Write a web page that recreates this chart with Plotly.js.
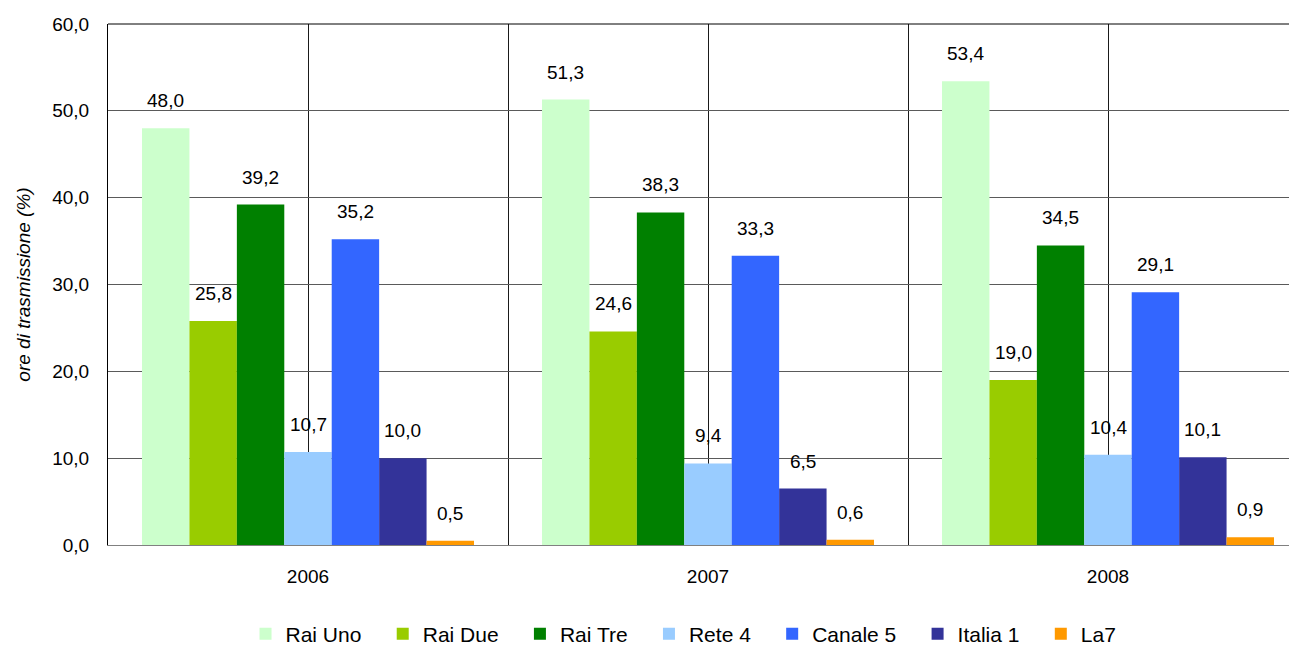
<!DOCTYPE html>
<html>
<head>
<meta charset="utf-8">
<script src="https://cdn.plot.ly/plotly-3.0.1.min.js"></script>
<style>
html, body { margin: 0; padding: 0; overflow: hidden; background: #fff; }
#chart { width: 1330px; height: 680px; }
</style>
</head>
<body>
<div id="chart"></div>
<script>
const years = ['2006', '2007', '2008'];
const channels = ['Rai Uno', 'Rai Due', 'Rai Tre', 'Rete 4', 'Canale 5', 'Italia 1', 'La7'];
const raiUno  = [48.0, 51.3, 53.4];
const raiDue  = [25.8, 24.6, 19.0];
const raiTre  = [39.2, 38.3, 34.5];
const rete4   = [10.7, 9.4, 10.4];
const canale5 = [35.2, 33.3, 29.1];
const italia1 = [10.0, 6.5, 10.1];
const la7     = [0.5, 0.6, 0.9];
const yTicks = [0, 10, 20, 30, 40, 50, 60];

const series = [raiUno, raiDue, raiTre, rete4, canale5, italia1, la7];
const colors = ['#CCFFCC', '#99CC00', '#008000', '#99CCFF', '#3366FF', '#333399', '#FF9900'];
const FONT = 'Liberation Sans, Arial, sans-serif';
const FS = 19;
const bargap = 0.17;
const xIdx = years.map((_, i) => i);
const legendPad = '\u2002\u00a0';

const traces = series.map((vals, k) => ({
  type: 'bar',
  name: channels[k] + (k < channels.length - 1 ? legendPad : ''),
  x: xIdx,
  y: vals,
  marker: { color: colors[k], line: { width: 0 } },
  hoverinfo: 'skip'
}));

// data labels placed over each bar via the group geometry
const n = series.length;
const w = (1 - bargap) / n;
const annotations = [];
series.forEach((vals, k) => {
  vals.forEach((v, j) => {
    annotations.push({
      x: j + (k - (n - 1) / 2) * w,
      y: v,
      xref: 'x', yref: 'y',
      text: v.toFixed(1).replace('.', ','),
      showarrow: false,
      yanchor: 'bottom',
      yshift: 15,
      font: { family: FONT, size: FS, color: '#000' }
    });
  });
});

const gridVals = [];
const gridText = [];
for (let j = 0; j < years.length; j++) {
  gridVals.push(j - 0.5); gridText.push('');
  gridVals.push(j); gridText.push(years[j]);
}
gridVals.push(years.length - 0.5); gridText.push('');

const layout = {
  width: 1330,
  height: 680,
  margin: { l: 108, r: 22, t: 24, b: 135 },
  paper_bgcolor: '#fff',
  plot_bgcolor: '#fff',
  separators: ',.',
  barmode: 'group',
  bargap: bargap,
  bargroupgap: 0,
  font: { family: FONT, size: FS, color: '#000' },
  showlegend: true,
  legend: {
    orientation: 'h',
    x: 0.4796, xanchor: 'center',
    y: -0.171, yanchor: 'middle',
    font: { family: FONT, size: 21, color: '#000' },
    traceorder: 'normal'
  },
  xaxis: {
    type: 'linear',
    range: [-0.5, years.length - 0.5],
    tickmode: 'array',
    tickvals: gridVals,
    ticktext: gridText,
    showgrid: true,
    gridcolor: '#1a1a1a',
    gridwidth: 1,
    showline: true,
    linecolor: '#808080',
    linewidth: 1,
    zeroline: false,
    ticks: '',
    ticklabelstandoff: 14,
    tickfont: { family: FONT, size: FS, color: '#000' },
    fixedrange: true
  },
  yaxis: {
    range: [0, 60],
    tickmode: 'array',
    tickvals: yTicks,
    tickformat: '.1f',
    showgrid: true,
    gridcolor: '#5a5a5a',
    gridwidth: 1,
    showline: true,
    linecolor: '#000',
    linewidth: 1,
    zeroline: false,
    ticks: '',
    ticklabelstandoff: 14,
    tickfont: { family: FONT, size: FS, color: '#000' },
    title: {
      text: 'ore di trasmissione (%)',
      font: { family: FONT, size: FS, color: '#000', style: 'italic' },
      standoff: 16
    },
    fixedrange: true
  },
  shapes: [{
    type: 'line', xref: 'paper', yref: 'paper',
    x0: 0, x1: 1, y0: 1, y1: 1,
    line: { color: '#000', width: 1 }
  }],
  annotations: annotations
};

Plotly.newPlot('chart', traces, layout, { displayModeBar: false, staticPlot: true });
</script>
</body>
</html>
